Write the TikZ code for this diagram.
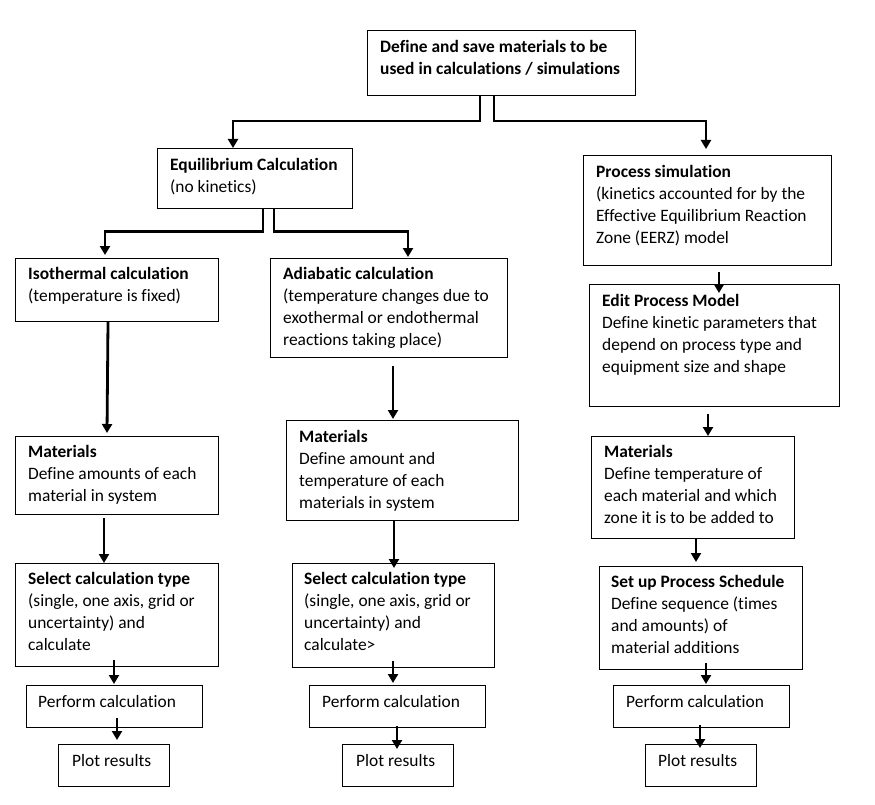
\documentclass[tikz,border=0pt]{standalone}
\usepackage{fontspec}
\setmainfont{Carlito}[Ligatures=NoCommon]
\usetikzlibrary{shapes,arrows,arrows.meta,positioning,calc}

\begin{document}
\begin{tikzpicture}[
    x=1pt, y=-1pt,
    box/.style={rectangle, draw=black, line width=1.1pt, anchor=north west, inner sep=0pt},
    txt/.style={anchor=north west, align=left, inner sep=0pt, font=\fontsize{17.4}{22}\selectfont},
    arrow/.style={-{Triangle[width=10pt,length=9pt]}, line width=2.8pt}
]
\useasboundingbox (0,0) rectangle (875,805);

% Top
\node[box, minimum width=268pt, minimum height=65pt] (define) at (367,30) {};
\node[txt] (defineT) at ([xshift=13pt,yshift=-10pt]define.north west) {\textbf{Define and save materials to be}\\\textbf{used in calculations / simulations}};

% Second level
\node[box, minimum width=195pt, minimum height=60pt] (equil) at (157,148) {};
\node[txt] (equilT) at ([xshift=13pt,yshift=-10pt]equil.north west) {\textbf{Equilibrium Calculation}\\(no kinetics)};
\node[box, minimum width=248pt, minimum height=110pt] (proc) at (583,155) {};
\node[txt] (procT) at ([xshift=13pt,yshift=-10pt]proc.north west) {\textbf{Process simulation}\\(kinetics accounted for by the\\Effective Equilibrium Reaction\\Zone (EERZ) model};
\draw[arrow] ([xshift=113pt]define.south west) -- ++(0,25) -| ([xshift=76pt]equil.north west);
\draw[arrow, shorten >=6pt] ([xshift=127pt]define.south west) -- ++(0,25) -| ([xshift=123pt]proc.north west);

% Third level
\node[box, minimum width=203pt, minimum height=63pt] (iso) at (15,258) {};
\node[txt] (isoT) at ([xshift=13pt,yshift=-9pt]iso.north west) {\textbf{Isothermal calculation}\\(temperature is fixed)};
\node[box, minimum width=237pt, minimum height=99pt] (adia) at (270,258) {};
\node[txt] (adiaT) at ([xshift=13pt,yshift=-9pt]adia.north west) {\textbf{Adiabatic calculation}\\(temperature changes due to\\exothermal or endothermal\\reactions taking place)};
\node[box, minimum width=250pt, minimum height=122pt] (edit) at (589,284) {};
\node[txt] (editT) at ([xshift=13pt,yshift=-10pt]edit.north west) {\textbf{Edit Process Model}\\Define kinetic parameters that\\depend on process type and\\equipment size and shape};
\draw[arrow] ([xshift=106pt]equil.south west) -- ++(0,22) -| ([xshift=90pt,yshift=3pt]iso.north west);
\draw[arrow] ([xshift=117pt]equil.south west) -- ++(0,22) -| ([xshift=138pt,yshift=1pt]adia.north west);
\draw[arrow, shorten <=6pt] ([xshift=136pt]proc.south west) -- ([xshift=130pt,yshift=-9pt]edit.north west);

% Materials
\node[box, minimum width=203pt, minimum height=78pt] (mat1) at (15,436) {};
\node[txt] (mat1T) at ([xshift=13pt,yshift=-9pt]mat1.north west) {\textbf{Materials}\\Define amounts of each\\material in system};
\node[box, minimum width=232pt, minimum height=100pt] (mat2) at (286,420) {};
\node[txt] (mat2T) at ([xshift=13pt,yshift=-10pt]mat2.north west) {\textbf{Materials}\\Define amount and\\temperature of each\\materials in system};
\node[box, minimum width=203pt, minimum height=102pt] (mat3) at (591,436) {};
\node[txt] (mat3T) at ([xshift=13pt,yshift=-9pt]mat3.north west) {\textbf{Materials}\\Define temperature of\\each material and which\\zone it is to be added to};
\draw[arrow] ([xshift=93pt]iso.south west) -- ([xshift=92pt,yshift=3pt]mat1.north west);
\draw[arrow, shorten <=8pt] ([xshift=123pt]adia.south west) -- ([xshift=107pt,yshift=1pt]mat2.north west);
\draw[arrow, shorten <=7pt] ([xshift=119pt]edit.south west) -- ([xshift=117pt]mat3.north west);

% Calculation type / schedule
\node[box, minimum width=203pt, minimum height=103pt] (sel1) at (15,563) {};
\node[txt] (sel1T) at ([xshift=13pt,yshift=-9pt]sel1.north west) {\textbf{Select calculation type}\\(single, one axis, grid or\\uncertainty) and\\calculate};
\node[box, minimum width=202pt, minimum height=104pt] (sel2) at (292,563) {};
\node[txt] (sel2T) at ([xshift=12pt,yshift=-9pt]sel2.north west) {\textbf{Select calculation type}\\(single, one axis, grid or\\uncertainty) and\\calculate>};
\node[box, minimum width=203pt, minimum height=103pt] (setup) at (599,566) {};
\node[txt] (setupT) at ([xshift=12pt,yshift=-9pt]setup.north west) {\textbf{Set up Process Schedule}\\Define sequence (times\\and amounts) of\\material additions};
\draw[arrow, shorten <=3pt] ([xshift=89pt]mat1.south west) -- ([xshift=89pt]sel1.north west);
\draw[arrow] ([xshift=108pt]mat2.south west) -- ([xshift=102pt,yshift=-5pt]sel2.north west);
\draw[arrow] ([xshift=105pt]mat3.south west) -- ([xshift=97pt,yshift=4pt]setup.north west);

% Perform calculation
\node[box, minimum width=176pt, minimum height=42pt] (perf1) at (26,685) {};
\node[txt] (perf1T) at ([xshift=12pt,yshift=-10pt]perf1.north west) {Perform calculation};
\node[box, minimum width=176pt, minimum height=42pt] (perf2) at (309,685) {};
\node[txt] (perf2T) at ([xshift=13pt,yshift=-10pt]perf2.north west) {Perform calculation};
\node[box, minimum width=176pt, minimum height=42pt] (perf3) at (613,685) {};
\node[txt] (perf3T) at ([xshift=13pt,yshift=-10pt]perf3.north west) {Perform calculation};
\draw[arrow] ([xshift=99pt,yshift=7pt]sel1.south west) -- ([xshift=88pt,yshift=1pt]perf1.north west);
\draw[arrow] ([xshift=101pt,yshift=7pt]sel2.south west) -- ([xshift=84pt,yshift=2pt]perf2.north west);
\draw[arrow] ([xshift=107pt,yshift=7pt]setup.south west) -- ([xshift=93pt,yshift=1pt]perf3.north west);

% Plot results
\node[box, minimum width=111pt, minimum height=42pt] (plot1) at (58,744) {};
\node[txt] (plot1T) at ([xshift=14pt,yshift=-10pt]plot1.north west) {Plot results};
\node[box, minimum width=111pt, minimum height=42pt] (plot2) at (342,744) {};
\node[txt] (plot2T) at ([xshift=14pt,yshift=-10pt]plot2.north west) {Plot results};
\node[box, minimum width=111pt, minimum height=42pt] (plot3) at (645,744) {};
\node[txt] (plot3T) at ([xshift=13pt,yshift=-10pt]plot3.north west) {Plot results};
\draw[arrow] ([xshift=91pt,yshift=10pt]perf1.south west) -- ([xshift=59pt,yshift=4pt]plot1.north west);
\draw[arrow] ([xshift=88pt,yshift=2pt]perf2.south west) -- ([xshift=55pt,yshift=-5pt]plot2.north west);
\draw[arrow] ([xshift=87pt,yshift=3pt]perf3.south west) -- ([xshift=55pt,yshift=-4pt]plot3.north west);

\end{tikzpicture}
\end{document}
